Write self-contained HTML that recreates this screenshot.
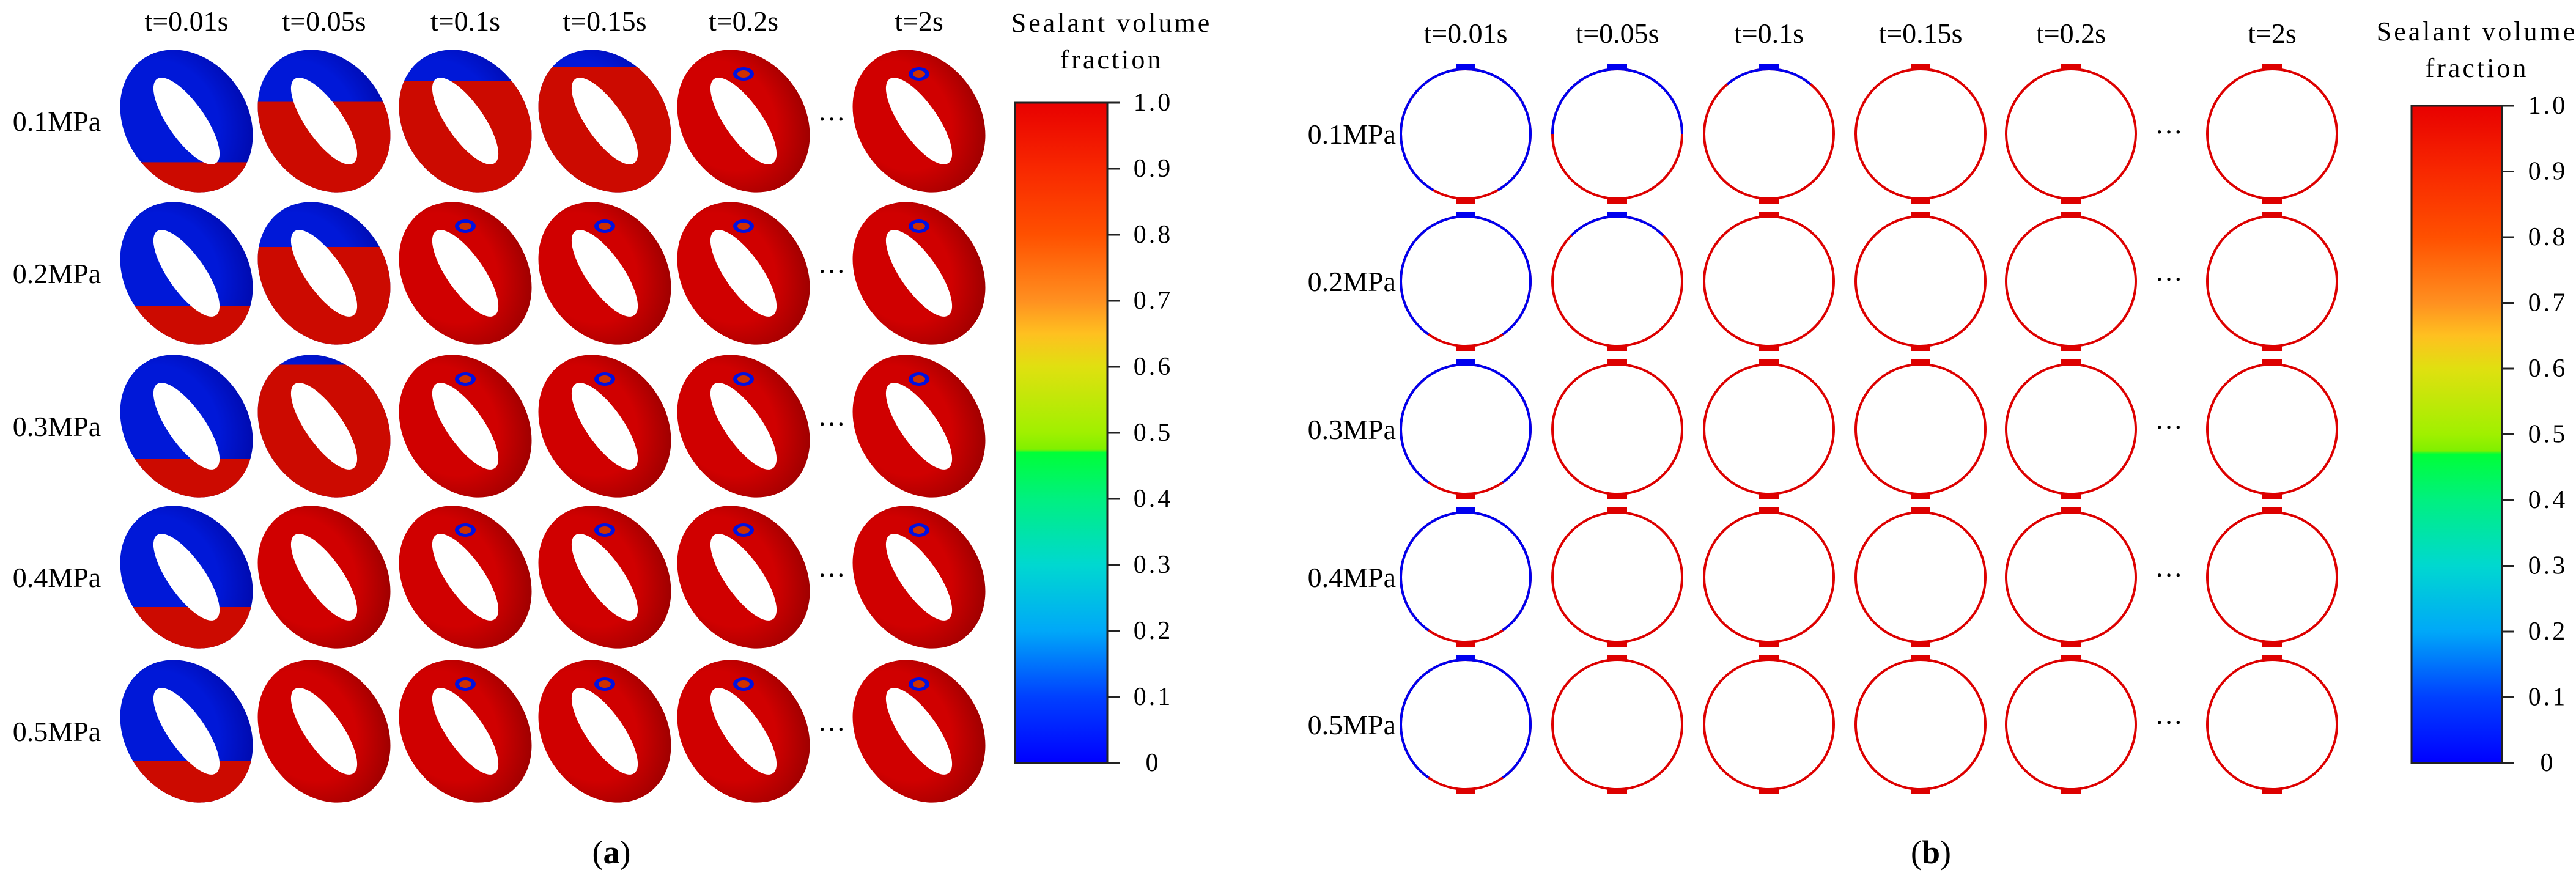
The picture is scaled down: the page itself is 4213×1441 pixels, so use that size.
<!DOCTYPE html>
<html><head><meta charset="utf-8">
<style>
html,body{margin:0;padding:0;background:#fff;}
svg{display:block;}
text{font-family:"Liberation Serif","DejaVu Serif",serif;fill:#000;}
</style></head>
<body>
<svg id="fig" width="4213" height="1441" viewBox="0 0 4213 1441" xmlns="http://www.w3.org/2000/svg">
<defs>
<linearGradient id="jet" x1="0" y1="1" x2="0" y2="0">
<stop offset="0" stop-color="#0000ff"/>
<stop offset="0.1" stop-color="#0040ff"/>
<stop offset="0.2" stop-color="#00a8f8"/>
<stop offset="0.3" stop-color="#00d8d0"/>
<stop offset="0.4" stop-color="#00f080"/>
<stop offset="0.47" stop-color="#00ff38"/>
<stop offset="0.475" stop-color="#80f000"/>
<stop offset="0.5" stop-color="#a0f000"/>
<stop offset="0.6" stop-color="#e0e010"/>
<stop offset="0.65" stop-color="#ffc020"/>
<stop offset="0.7" stop-color="#ff9020"/>
<stop offset="0.8" stop-color="#ff5000"/>
<stop offset="0.9" stop-color="#f82800"/>
<stop offset="1" stop-color="#e80000"/>
</linearGradient>
<radialGradient id="redshade" cx="0.4" cy="0.4" r="0.7">
<stop offset="0.55" stop-color="#d00000"/>
<stop offset="1" stop-color="#950000"/>
</radialGradient>
<radialGradient id="blueshade" cx="0.4" cy="0.4" r="0.7">
<stop offset="0.55" stop-color="#0018d8"/>
<stop offset="1" stop-color="#0008a8"/>
</radialGradient>
</defs>
<g id="panelA"></g>
<g id="panelB"></g>
<text x="1000" y="1412" font-size="54" text-anchor="middle">(<tspan font-weight="bold">a</tspan>)</text>
<text x="3158" y="1412" font-size="54" text-anchor="middle">(<tspan font-weight="bold">b</tspan>)</text>
</svg>
<script>
const timeLabels = ["t=0.01s","t=0.05s","t=0.1s","t=0.15s","t=0.2s","t=2s"];
const pressureLabels = ["0.1MPa","0.2MPa","0.3MPa","0.4MPa","0.5MPa"];
const colorbarTicks = [0,0.1,0.2,0.3,0.4,0.5,0.6,0.7,0.8,0.9,1.0];
const colorbarTickLabels = ["0","0.1","0.2","0.3","0.4","0.5","0.6","0.7","0.8","0.9","1.0"];
// Panel (a): approx. fraction of ring filled by sealant (red)
const ringRedFrac = [
  [0.22,0.65,0.8,0.9,1,1],
  [0.28,0.7,1,1,1,1],
  [0.28,0.95,1,1,1,1],
  [0.3,1,1,1,1,1],
  [0.3,1,1,1,1,1]
];
// Panel (b): half-angle (deg, from top) of blue (empty) arc on cross-section
const blueHalfAngle = [
  [150,90,40,0,0,0],
  [145,45,0,0,0,0],
  [145,0,0,0,0,0],
  [145,0,0,0,0,0],
  [145,0,0,0,0,0]
];
const NS="http://www.w3.org/2000/svg";
function mk(tag,attrs,parent){const e=document.createElementNS(NS,tag);for(const k in attrs)e.setAttribute(k,attrs[k]);parent.appendChild(e);return e;}

const aCols=[305,530,761,989,1216,1503], aRows=[198,447,697,944,1196];
const bCols=[2397,2645,2893,3141,3387,3716], bRows=[219,460,702,944,1185];
const A=document.getElementById('panelA'), B=document.getElementById('panelB');

function colorbar(parent,x0,x1,yTop,yBot,titleX,titleY){
  const r=mk('rect',{x:x0,y:yTop,width:x1-x0,height:yBot-yTop,fill:'url(#jet)',stroke:'#222','stroke-width':3},parent);
  
  
  colorbarTicks.forEach((v,i)=>{
    const y=yBot-(yBot-yTop)*v;
    const l=mk('line',{x1:x1,x2:x1+20,y1:y,y2:y,stroke:'#222','stroke-width':3},parent);
    
    
    const t=mk('text',{x:x1+75,y:y+13,'font-size':42,'text-anchor':'middle','letter-spacing':4},parent);
    t.textContent=colorbarTickLabels[i];
    
    
  });
  const t1=mk('text',{x:titleX,y:titleY,'font-size':44,'text-anchor':'middle','letter-spacing':4},parent);
  t1.textContent='Sealant volume';
  
  
  const t2=mk('text',{x:titleX,y:titleY+60,'font-size':44,'text-anchor':'middle','letter-spacing':4},parent);
  t2.textContent='fraction';
  
  
}

// Panel A
timeLabels.forEach((s,i)=>{
  const t=mk('text',{x:aCols[i],y:50,'font-size':46,'text-anchor':'middle'},A);
  t.textContent=s;
  
  
});
pressureLabels.forEach((s,j)=>{
  const t=mk('text',{x:93,y:aRows[j]+16,'font-size':46,'text-anchor':'middle'},A);
  t.textContent=s;
  
  
  const d=mk('text',{x:1360,y:aRows[j]+12,'font-size':46,'text-anchor':'middle'},A);
  d.textContent='···';
  
  
});
let cid=0;
ringRedFrac.forEach((row,j)=>{
  row.forEach((f,i)=>{
    const cx=aCols[i], cy=aRows[j];
    const g=mk('g',{transform:`translate(${cx},${cy})`},A);
    
    
    const id='rc'+(cid++);
    const cp=mk('clipPath',{id:id},g);
    mk('ellipse',{cx:0,cy:0,rx:100,ry:124,transform:'rotate(-35)'},cp);
    mk('ellipse',{cx:0,cy:0,rx:100,ry:124,transform:'rotate(-35)',fill:f>=1?'url(#redshade)':'url(#blueshade)'},g);
    if(f<1){
      const h=230*f;
      mk('rect',{x:-120,y:118-h,width:240,height:h+20,fill:'#cc0a00','clip-path':`url(#${id})`},g);
    }
    mk('ellipse',{cx:0,cy:0,rx:30,ry:84,transform:'rotate(-35)',fill:'#fff'},g);
    if(f>=1 && i>=2){
      mk('ellipse',{cx:0,cy:-77,rx:17,ry:11,fill:'#0010e0'},g);
      mk('ellipse',{cx:0,cy:-77,rx:10,ry:6,fill:'#d03000'},g);
    }
  });
});
colorbar(A,1660,1811,168,1248,1818,52);

// Panel B
timeLabels.forEach((s,i)=>{
  const t=mk('text',{x:bCols[i],y:70,'font-size':46,'text-anchor':'middle'},B);
  t.textContent=s;
  
  
});
pressureLabels.forEach((s,j)=>{
  const t=mk('text',{x:2283,y:bRows[j]+16,'font-size':46,'text-anchor':'end'},B);
  t.textContent=s;
  
  
  const d=mk('text',{x:3547,y:bRows[j]+12,'font-size':46,'text-anchor':'middle'},B);
  d.textContent='···';
  
  
});
const R=106;
blueHalfAngle.forEach((row,j)=>{
  row.forEach((th,i)=>{
    const cx=bCols[i], cy=bRows[j];
    const g=mk('g',{},B);
    
    
    mk('circle',{cx:cx,cy:cy,r:R,fill:'none',stroke:'#dd0000','stroke-width':4},g);
    if(th>0){
      const a=th*Math.PI/180;
      const x1=cx-R*Math.sin(a), y1=cy-R*Math.cos(a), x2=cx+R*Math.sin(a);
      mk('path',{d:`M${x1},${y1} A${R},${R} 0 ${th>90?1:0} 1 ${x2},${y1}`,fill:'none',stroke:'#0000ee','stroke-width':4},g);
    }
    mk('rect',{x:cx-16,y:cy-R-8,width:32,height:10,fill:th>0?'#0000ee':'#dd0000'},g);
    mk('rect',{x:cx-16,y:cy+R-2,width:32,height:10,fill:'#dd0000'},g);
  });
});
colorbar(B,3944,4092,173,1248,4051,66);
</script>
</body></html>
